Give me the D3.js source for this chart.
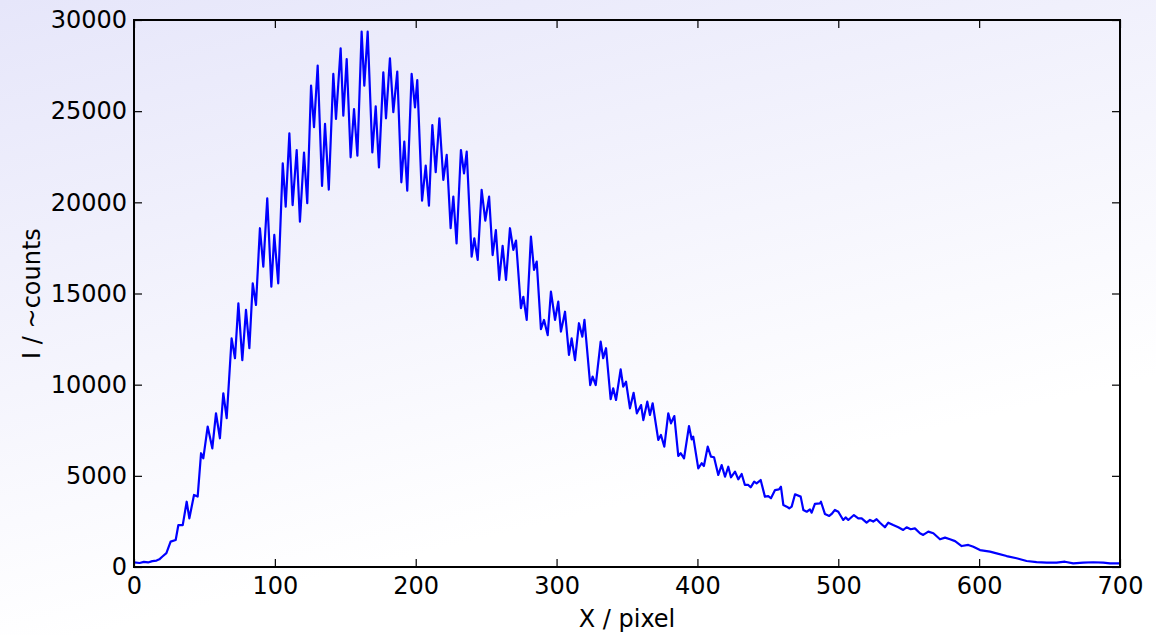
<!DOCTYPE html>
<html>
<head>
<meta charset="utf-8">
<script src="https://cdn.jsdelivr.net/npm/d3@7/dist/d3.min.js"></script>
<style>
  html, body { margin: 0; padding: 0; background: #fff; }
  svg { display: block; font-family: "DejaVu Sans", sans-serif; }
</style>
</head>
<body>
<svg id="chart" width="1156" height="635"></svg>
<script>
// pixel position along the detector (read at local peaks / troughs)
const pixelX = [
  0, 4, 7, 10, 13, 16, 18, 20, 23, 26, 29.6, 31.5, 34.6, 37.4, 39.3, 42.6, 45.2, 47.6, 49.2,
  52.3, 55.6, 58.2, 61, 63.4, 65.8, 69.3, 71.7, 74.1, 76.9, 79.5, 81.9, 84.3, 86.6, 89.4,
  91.8, 94.6, 97.5, 99.6, 102.4, 105.6, 107.7, 110.3, 112.6, 115.5, 117.8, 120.7, 123,
  125.7, 127.8, 130.4, 133.5, 135.6, 138.3, 141.5, 143.4, 146.7, 148.6, 151, 153.8, 156.2,
  158.6, 161.6, 163.5, 165.9, 169.2, 171.6, 173.9, 177, 178.9, 181.7, 184.1, 186.9, 189.8,
  191.9, 194, 197.1, 199.5, 201.1, 204.5, 207.1, 209.4, 211.8, 214.2, 216.8, 219.6, 222,
  224.8, 226.7, 229, 232.1, 234.3, 236.2, 239.7, 241.6, 244, 246.8, 249.4, 252.1, 254.6,
  256.9, 259.3, 261.7, 264.1, 266.9, 269.3, 271.2, 274.7, 276.4, 278.8, 281.8, 284, 285.9,
  288.9, 291.1, 293.7, 296, 298.9, 301.2, 303.1, 306, 308.8, 310.7, 313.1, 315.9, 318.3,
  319.8, 323.9, 325.6, 327.8, 331.3, 333.1, 335.1, 338.4, 340.2, 342.2, 345.5, 347.3,
  349.3, 352.1, 354.7, 357, 360, 361.6, 364.4, 366.3, 368.2, 372.2, 374.1, 376.5, 379.3,
  381.2, 383.6, 386.4, 388.1, 390.5, 394, 395.9, 397, 400.6, 403, 404.6, 407.3, 409.6,
  411.8, 414.8, 417.2, 419.6, 421.9, 423.8, 426.7, 429, 431.4, 433.7, 436.1, 437.8, 440.3,
  442, 444.9, 447.9, 450.3, 452.2, 455.1, 457.9, 459.3, 461, 463.4, 465.2, 466.9, 469.3,
  473.3, 475.2, 477.6, 479.9, 481.1, 483.4, 487, 487.7, 490.5, 493.6, 495.3, 497.6, 500,
  503.5, 505.2, 507.1, 511.1, 514.2, 516.6, 520.1, 522.5, 524.8, 527.2, 529.6, 533.1,
  535.5, 539, 542.6, 546.1, 548.5, 551.4, 554.4, 558, 560.3, 563.9, 567.5, 572.2, 575.8,
  579.3, 582.9, 587.6, 592.3, 595.9, 600.6, 607.7, 612.4, 619.5, 626.6, 633.7, 640.8, 648,
  655, 660.9, 666.8, 673.9, 681, 688.1, 692.9, 700
];

// intensity in counts at those pixels
const counts = [
  250, 220, 280, 250, 320, 350, 420, 560, 760, 1390, 1480, 2300, 2300, 3580, 2670, 3950, 3860, 6240, 5960,
  7700, 6510, 8430, 7060, 9530, 8160, 12540, 11450, 14460, 11350, 14100, 12000, 15560, 14370, 18580,
  16470, 20220, 15370, 18210, 15560, 22140, 19760, 23790, 19850, 22870, 18940, 22730, 19950,
  26400, 24120, 27500, 20900, 24300, 20700, 27040, 24570, 28450, 24750, 27860, 22470, 25120,
  22560, 29360, 26400, 29360, 22740, 25270, 21920, 27130, 24610, 27900, 24940, 27170, 21100,
  23330, 20640, 27040, 25210, 26710, 20090, 22010, 19820, 24240, 21650, 24610, 21230, 22600,
  18580, 20310, 17750, 22870, 21590, 22780, 17020, 18030, 16840, 20680, 19000, 20310, 17110,
  18480, 15740, 17610, 15740, 18580, 17390, 17900, 14190, 14820, 13550, 18120, 16290, 16750,
  13040, 13550, 12720, 15100, 13550, 14550, 12910, 14000, 11630, 12540, 11350, 13370, 12630,
  13550, 9980, 10440, 9980, 12360, 11450, 12000, 9200, 9800, 9160, 10840, 9890,
  10160, 8700, 9550, 8430, 8880, 8060, 9070, 8340, 8980, 6970, 7240, 6600, 8430,
  7880, 8280, 6090, 6240, 5960, 7730, 7000, 7150, 5410, 5690, 5540, 6600, 6050,
  6020, 5050, 5590, 4950, 5500, 4920, 5230, 4810, 5100, 4500, 4500, 4370, 4680,
  4590, 4770, 3860, 3890, 3770, 4220, 4260, 4400, 3400, 3310, 3220, 3310, 3990,
  3860, 3130, 3030, 3160, 2980, 3460, 3490, 3580, 2910, 2800, 2910, 3130, 3030,
  2580, 2720, 2580, 2850, 2670, 2670, 2430, 2580, 2490, 2620, 2430, 2180,
  2430, 2300, 2180, 2030, 2180, 2070, 2120, 1850, 1760, 1940, 1850, 1520, 1610,
  1520, 1420, 1150, 1210, 1110, 930, 840, 750, 600, 480, 330, 270, 240,
  240, 290, 200, 240, 260, 240, 200, 200
];

const xTicks = [0, 100, 200, 300, 400, 500, 600, 700];
const yTicks = [0, 5000, 10000, 15000, 20000, 25000, 30000];
const xTitle = "X / pixel";
const yTitle = "I / ~counts";

const W = 1156, H = 635;
const margin = {top: 20, right: 36, bottom: 68, left: 134};
const svg = d3.select("#chart");

// soft lavender wash behind the whole figure
const defs = svg.append("defs");
const grad = defs.append("linearGradient")
  .attr("id", "bg")
  .attr("gradientUnits", "userSpaceOnUse")
  .attr("x1", 0).attr("y1", 0)
  .attr("x2", 150).attr("y2", 620);
grad.append("stop").attr("offset", 0).attr("stop-color", "#e6e6fa");
grad.append("stop").attr("offset", 1).attr("stop-color", "#ffffff");
svg.append("rect").attr("width", W).attr("height", H).attr("fill", "url(#bg)");

const x = d3.scaleLinear().domain([0, 700]).range([margin.left, W - margin.right]);
const y = d3.scaleLinear().domain([0, 30000]).range([H - margin.bottom, margin.top]);

defs.append("clipPath").attr("id", "clip")
  .append("rect")
  .attr("x", x(0)).attr("y", y(30000))
  .attr("width", x(700) - x(0)).attr("height", y(0) - y(30000));

const data = pixelX.map((px, i) => [px, counts[i]]);

const line = d3.line().x(d => x(d[0])).y(d => y(d[1]));

svg.append("path")
  .datum(data)
  .attr("clip-path", "url(#clip)")
  .attr("fill", "none")
  .attr("stroke", "#0000ff")
  .attr("stroke-width", 2.2)
  .attr("stroke-linejoin", "round")
  .attr("d", line);

const fs = 24;
const tickLen = 8;
const fmt = d3.format("d");

// ticks pointing inward on all four sides
const bottomAxis = d3.axisBottom(x).tickValues(xTicks).tickFormat(fmt).tickSizeInner(-tickLen).tickSizeOuter(0).tickPadding(10);
const topAxis = d3.axisTop(x).tickValues(xTicks).tickSizeInner(-tickLen).tickSizeOuter(0).tickFormat("");
const leftAxis = d3.axisLeft(y).tickValues(yTicks).tickFormat(fmt).tickSizeInner(-tickLen).tickSizeOuter(0).tickPadding(7);
const rightAxis = d3.axisRight(y).tickValues(yTicks).tickSizeInner(-tickLen).tickSizeOuter(0).tickFormat("");

function styleAxis(g) {
  g.select(".domain").remove();
  g.selectAll(".tick line").attr("stroke", "#000").attr("stroke-width", 1.2);
  g.selectAll(".tick text").attr("fill", "#000").style("font-size", fs + "px")
    .style("font-family", "'DejaVu Sans', sans-serif");
}

svg.append("g").attr("transform", `translate(0,${y(0)})`).call(bottomAxis).call(styleAxis)
  .selectAll(".tick text").attr("dy", "0.71em");
svg.append("g").attr("transform", `translate(0,${y(30000)})`).call(topAxis).call(styleAxis);
svg.append("g").attr("transform", `translate(${x(0)},0)`).call(leftAxis).call(styleAxis)
  .selectAll(".tick text").attr("dy", "0.32em");
svg.append("g").attr("transform", `translate(${x(700)},0)`).call(rightAxis).call(styleAxis);

// frame
svg.append("rect")
  .attr("x", x(0)).attr("y", y(30000))
  .attr("width", x(700) - x(0)).attr("height", y(0) - y(30000))
  .attr("fill", "none").attr("stroke", "#000").attr("stroke-width", 2);

svg.append("text")
  .attr("x", (x(0) + x(700)) / 2).attr("y", 627)
  .attr("text-anchor", "middle")
  .style("font-size", fs + "px")
  .text(xTitle);

svg.append("text")
  .attr("transform", `translate(40,${(y(0) + y(30000)) / 2}) rotate(-90)`)
  .attr("text-anchor", "middle")
  .style("font-size", fs + "px")
  .text(yTitle);
</script>
</body>
</html>
